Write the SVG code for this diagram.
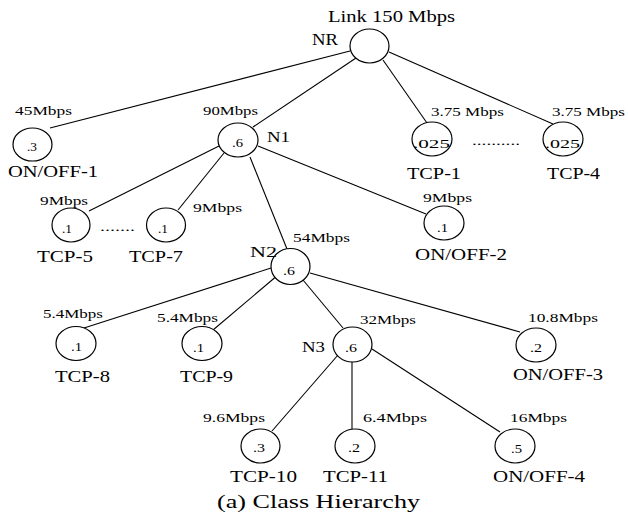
<svg xmlns="http://www.w3.org/2000/svg" width="628" height="521" viewBox="0 0 628 521" font-family="'Liberation Serif','DejaVu Serif',serif">
<style>
.n ellipse{fill:#fff;stroke:#000;stroke-width:1.2}
.e line{stroke:#000;stroke-width:1.1}
text{font-family:'Liberation Serif','DejaVu Serif',serif;fill:#000}
.big{font-size:16px}
.nm{font-size:17px}
.bw{font-size:13.5px}
.v{font-size:12px}
.in{font-size:15px}
.cap{font-size:19px}
</style>
<rect width="628" height="521" fill="#fff"/>
<g id="connectors" class="e">
<line x1="350" y1="51" x2="50" y2="128"/>
<line x1="356" y1="58" x2="253" y2="127"/>
<line x1="383" y1="60" x2="427" y2="123"/>
<line x1="389" y1="52" x2="553" y2="124"/>
<line x1="219" y1="146" x2="89" y2="211"/>
<line x1="224" y1="153" x2="178" y2="210"/>
<line x1="250" y1="157" x2="287" y2="249"/>
<line x1="258" y1="146" x2="426" y2="214"/>
<line x1="271" y1="268" x2="84" y2="328"/>
<line x1="278" y1="275" x2="213" y2="330"/>
<line x1="303" y1="280" x2="343" y2="328"/>
<line x1="310" y1="273" x2="520" y2="332"/>
<line x1="338" y1="355" x2="272" y2="431"/>
<line x1="352" y1="362" x2="352" y2="429"/>
<line x1="372" y1="349" x2="500" y2="432"/>
</g>
<g id="NR" class="n">
<ellipse cx="369.5" cy="46" rx="19.5" ry="17"/>
<text class="big" x="328" y="22" textLength="127" lengthAdjust="spacingAndGlyphs">Link 150 Mbps</text>
<text class="big" x="312" y="45" textLength="26" lengthAdjust="spacingAndGlyphs">NR</text>
</g>
<g id="ONOFF1" class="n">
<ellipse cx="32.5" cy="144.5" rx="19.5" ry="16.5"/>
<text class="bw" x="15" y="115" textLength="57" lengthAdjust="spacingAndGlyphs">45Mbps</text>
<text class="v" x="27" y="151" textLength="10" lengthAdjust="spacingAndGlyphs">.3</text>
<text class="nm" x="8" y="177" textLength="90" lengthAdjust="spacingAndGlyphs">ON/OFF-1</text>
</g>
<g id="N1" class="n">
<ellipse cx="238" cy="140" rx="20" ry="17"/>
<text class="bw" x="203" y="115" textLength="55" lengthAdjust="spacingAndGlyphs">90Mbps</text>
<text class="v" x="232" y="147" textLength="11" lengthAdjust="spacingAndGlyphs">.6</text>
<text class="in" x="267" y="142" textLength="23" lengthAdjust="spacingAndGlyphs">N1</text>
</g>
<g id="TCP1" class="n">
<ellipse cx="432" cy="139" rx="20" ry="17"/>
<text class="bw" x="431" y="116" textLength="73" lengthAdjust="spacingAndGlyphs">3.75 Mbps</text>
<text class="v" x="413" y="148" textLength="37" lengthAdjust="spacingAndGlyphs">.025</text>
<text class="nm" x="407" y="179" textLength="54" lengthAdjust="spacingAndGlyphs">TCP-1</text>
</g>
<text class="v" x="472" y="145" textLength="48" lengthAdjust="spacingAndGlyphs">..........</text>
<g id="TCP4" class="n">
<ellipse cx="563" cy="139" rx="20" ry="17"/>
<text class="bw" x="552" y="116" textLength="73" lengthAdjust="spacingAndGlyphs">3.75 Mbps</text>
<text class="v" x="545" y="148" textLength="35" lengthAdjust="spacingAndGlyphs">.025</text>
<text class="nm" x="547" y="179" textLength="53" lengthAdjust="spacingAndGlyphs">TCP-4</text>
</g>
<g id="TCP5" class="n">
<ellipse cx="71" cy="225" rx="19" ry="17"/>
<text class="bw" x="40" y="205" textLength="48" lengthAdjust="spacingAndGlyphs">9Mbps</text>
<text class="v" x="62" y="233" textLength="10" lengthAdjust="spacingAndGlyphs">.1</text>
<text class="nm" x="37" y="262" textLength="56" lengthAdjust="spacingAndGlyphs">TCP-5</text>
</g>
<text class="v" x="100" y="231" textLength="35" lengthAdjust="spacingAndGlyphs">.......</text>
<g id="TCP7" class="n">
<ellipse cx="166" cy="225" rx="19.5" ry="17"/>
<text class="bw" x="193" y="212" textLength="49" lengthAdjust="spacingAndGlyphs">9Mbps</text>
<text class="v" x="158" y="233" textLength="10" lengthAdjust="spacingAndGlyphs">.1</text>
<text class="nm" x="129" y="262" textLength="54" lengthAdjust="spacingAndGlyphs">TCP-7</text>
</g>
<g id="ONOFF2" class="n">
<ellipse cx="444" cy="223" rx="20" ry="17"/>
<text class="bw" x="423" y="202" textLength="49" lengthAdjust="spacingAndGlyphs">9Mbps</text>
<text class="v" x="437" y="232" textLength="11" lengthAdjust="spacingAndGlyphs">.1</text>
<text class="nm" x="415" y="260" textLength="92" lengthAdjust="spacingAndGlyphs">ON/OFF-2</text>
</g>
<g id="N2" class="n">
<ellipse cx="290.5" cy="266.5" rx="19.5" ry="18"/>
<text class="bw" x="293" y="242" textLength="57" lengthAdjust="spacingAndGlyphs">54Mbps</text>
<text class="v" x="283" y="275" textLength="12" lengthAdjust="spacingAndGlyphs">.6</text>
<text class="in" x="250" y="257" textLength="27" lengthAdjust="spacingAndGlyphs">N2</text>
</g>
<g id="TCP8" class="n">
<ellipse cx="76" cy="343.5" rx="20" ry="17"/>
<text class="bw" x="43" y="318" textLength="60" lengthAdjust="spacingAndGlyphs">5.4Mbps</text>
<text class="v" x="71" y="351" textLength="11" lengthAdjust="spacingAndGlyphs">.1</text>
<text class="nm" x="55" y="382" textLength="55" lengthAdjust="spacingAndGlyphs">TCP-8</text>
</g>
<g id="TCP9" class="n">
<ellipse cx="202" cy="343.5" rx="20" ry="17"/>
<text class="bw" x="157" y="322" textLength="61" lengthAdjust="spacingAndGlyphs">5.4Mbps</text>
<text class="v" x="193" y="352" textLength="11" lengthAdjust="spacingAndGlyphs">.1</text>
<text class="nm" x="180" y="382" textLength="53" lengthAdjust="spacingAndGlyphs">TCP-9</text>
</g>
<g id="N3" class="n">
<ellipse cx="352.5" cy="344.5" rx="19.5" ry="17.5"/>
<text class="bw" x="360" y="324" textLength="56" lengthAdjust="spacingAndGlyphs">32Mbps</text>
<text class="v" x="345" y="352" textLength="12" lengthAdjust="spacingAndGlyphs">.6</text>
<text class="in" x="302" y="352" textLength="23" lengthAdjust="spacingAndGlyphs">N3</text>
</g>
<g id="ONOFF3" class="n">
<ellipse cx="536" cy="345" rx="20" ry="17"/>
<text class="bw" x="528" y="322" textLength="70" lengthAdjust="spacingAndGlyphs">10.8Mbps</text>
<text class="v" x="530" y="352" textLength="12" lengthAdjust="spacingAndGlyphs">.2</text>
<text class="nm" x="513" y="380" textLength="90" lengthAdjust="spacingAndGlyphs">ON/OFF-3</text>
</g>
<g id="TCP10" class="n">
<ellipse cx="260.5" cy="446" rx="19.5" ry="17"/>
<text class="bw" x="203" y="422" textLength="62" lengthAdjust="spacingAndGlyphs">9.6Mbps</text>
<text class="v" x="253" y="452" textLength="12" lengthAdjust="spacingAndGlyphs">.3</text>
<text class="nm" x="230" y="482" textLength="67" lengthAdjust="spacingAndGlyphs">TCP-10</text>
</g>
<g id="TCP11" class="n">
<ellipse cx="355" cy="446" rx="20" ry="17"/>
<text class="bw" x="363" y="422" textLength="64" lengthAdjust="spacingAndGlyphs">6.4Mbps</text>
<text class="v" x="348" y="452" textLength="12" lengthAdjust="spacingAndGlyphs">.2</text>
<text class="nm" x="323" y="482" textLength="65" lengthAdjust="spacingAndGlyphs">TCP-11</text>
</g>
<g id="ONOFF4" class="n">
<ellipse cx="515" cy="446" rx="20" ry="17"/>
<text class="bw" x="510" y="422" textLength="57" lengthAdjust="spacingAndGlyphs">16Mbps</text>
<text class="v" x="511" y="453" textLength="11" lengthAdjust="spacingAndGlyphs">.5</text>
<text class="nm" x="493" y="482" textLength="92" lengthAdjust="spacingAndGlyphs">ON/OFF-4</text>
</g>
<text class="cap" x="217" y="508" textLength="203" lengthAdjust="spacingAndGlyphs">(a) Class Hierarchy</text>
</svg>
